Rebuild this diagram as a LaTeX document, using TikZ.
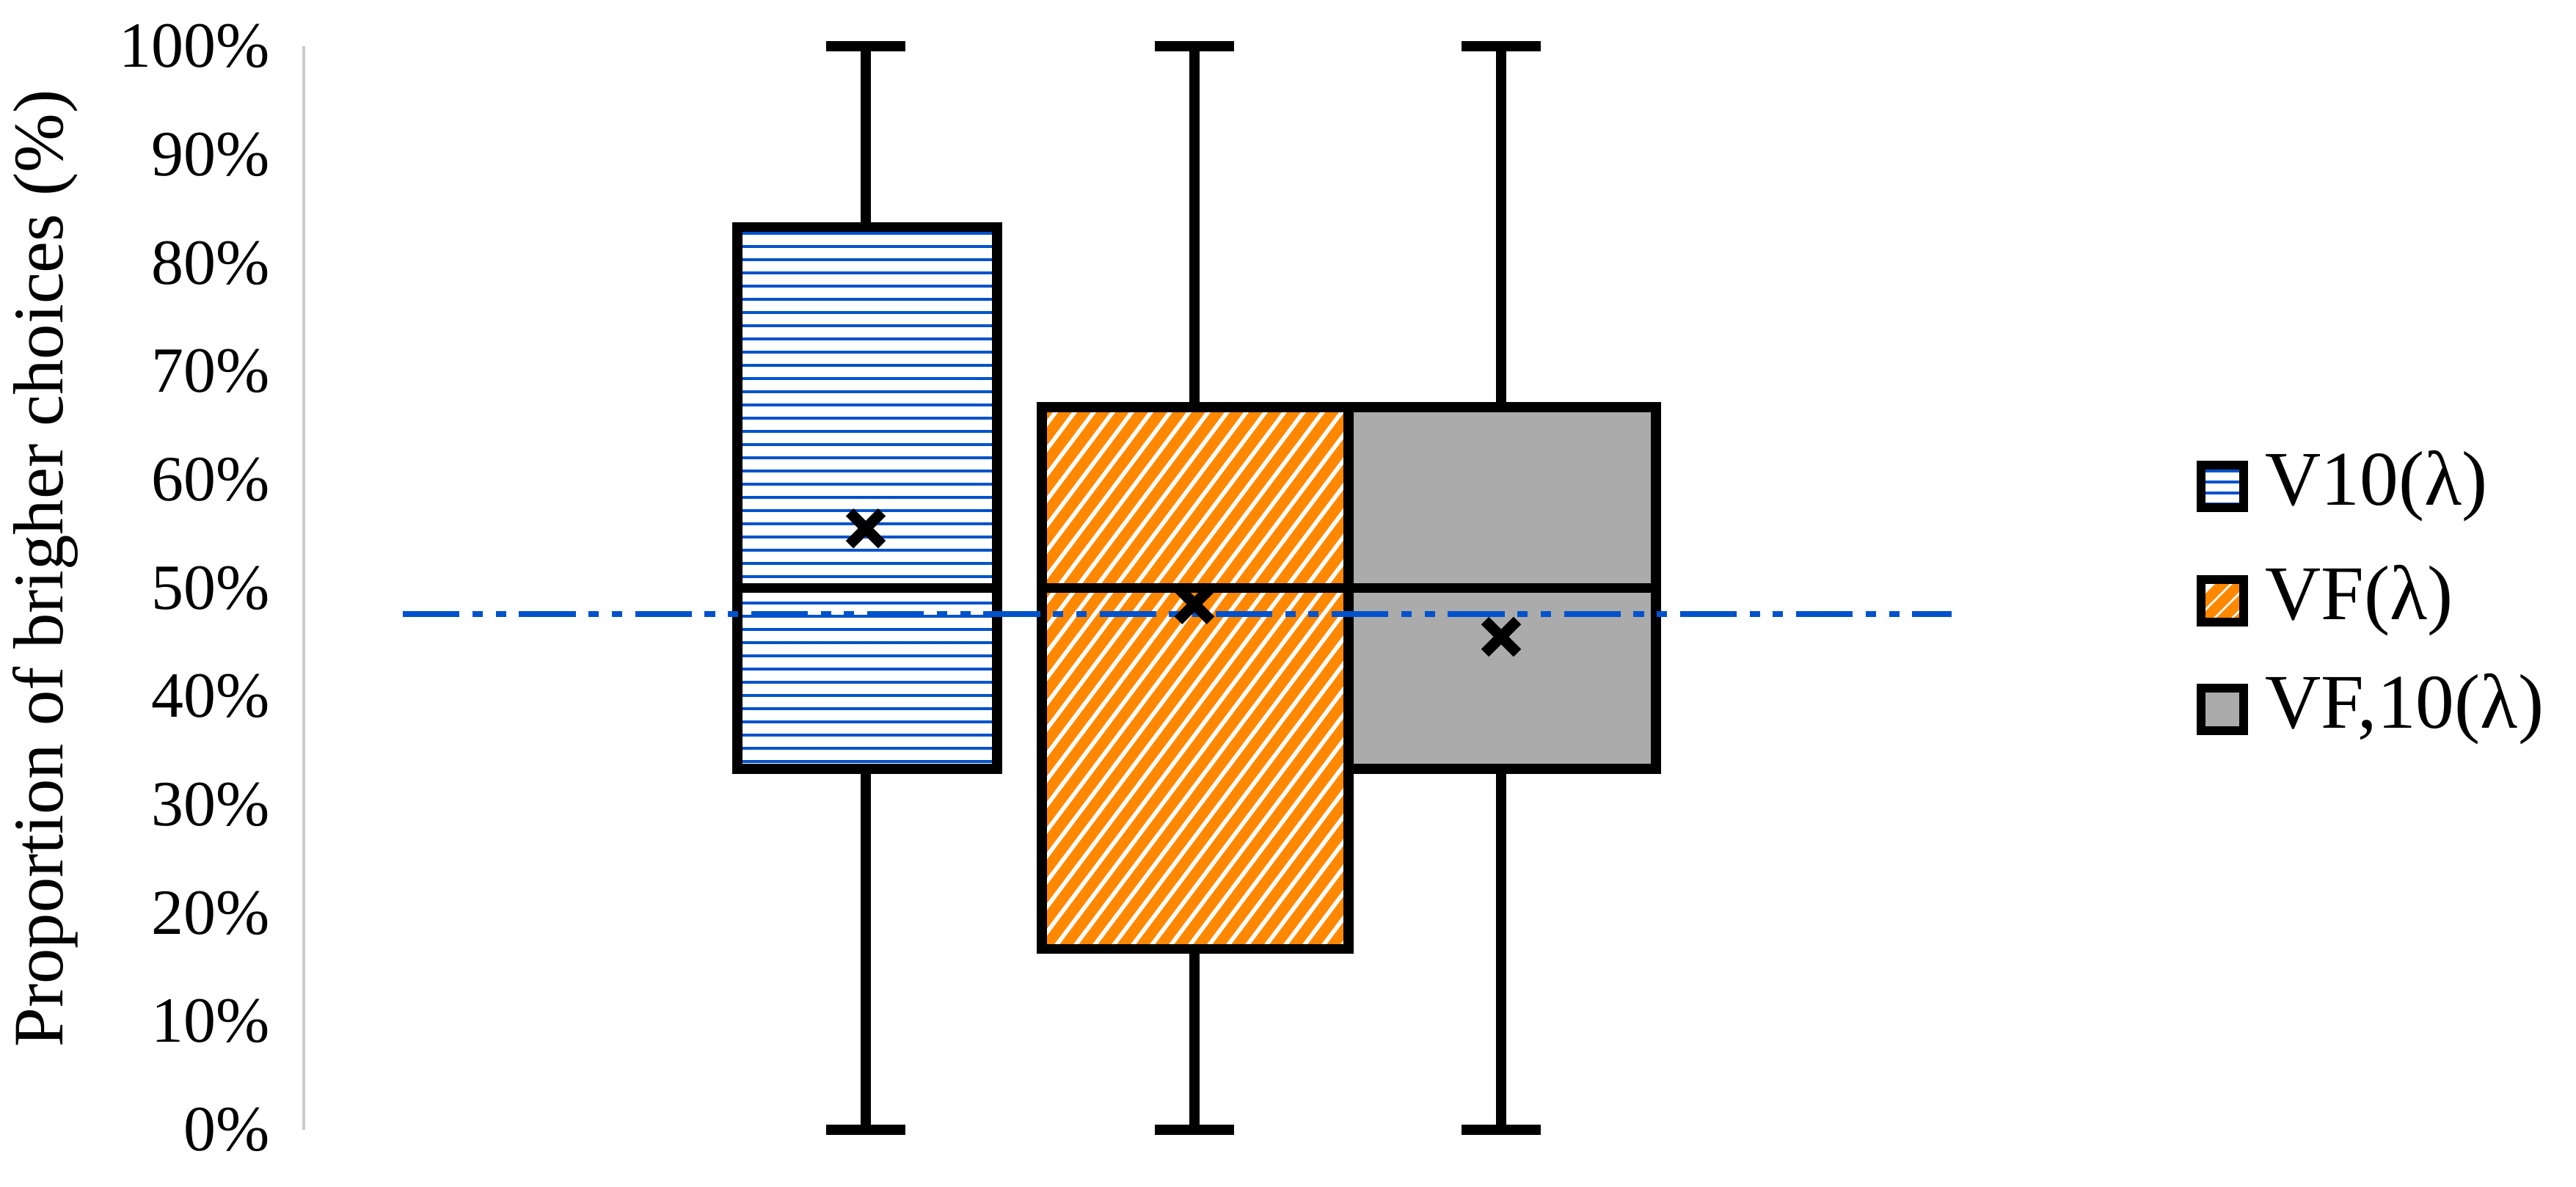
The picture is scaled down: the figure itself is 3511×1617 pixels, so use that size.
\documentclass[tikz,border=0pt]{standalone}
\usepackage{fontspec}
\setmainfont{Liberation Serif}
\begin{document}
\begin{tikzpicture}[x=0.01cm,y=-0.01cm,
  bx/.style={line width=3.8pt},
  wh/.style={line width=3.8pt},
  lbl/.style={font=\fontsize{25}{30}\selectfont},
  leg/.style={font=\fontsize{30}{36}\selectfont}]
\useasboundingbox (0,0) rectangle (3511,1617);
% axis
\draw[line width=1.2pt,black!20] (414,63) -- (414,1540);
\foreach \v in {0,10,...,100}
  \node[lbl,anchor=east] (t\v) at (380,{1540-14.77*\v}) {\v\%};
\node[font=\fontsize{27.5}{32}\selectfont,rotate=90] (yt) at (62,775) {Proportion of brigher choices (\%)};
% box 1
\begin{scope}
\clip (1005,{1540-14.77*83.3}) rectangle (1359,{1540-14.77*33.3});
\foreach \yy in {300,318,...,1060} \draw[line width=1.4pt,blue!60!cyan!80!black] (1005,\yy) -- (1359,\yy);
\end{scope}
\draw[wh] (1180,63) -- (1180,{1540-14.77*83.3}) (1126,63) -- (1234,63);
\draw[wh] (1180,1540) -- (1180,{1540-14.77*33.3}) (1126,1540) -- (1234,1540);
\draw[bx] (1005,{1540-14.77*83.3}) rectangle (1359,{1540-14.77*33.3});
\draw[bx] (1005,{1540-14.77*50}) -- (1359,{1540-14.77*50});
% box 2
\begin{scope}
\clip (1420,{1540-14.77*66.7}) rectangle (1838,{1540-14.77*16.7});
\foreach \s in {0,26,...,1400} \draw[line width=4.2pt,orange!90!red!85!yellow] (1420+\s-600,1300) -- (1420+\s,500);
\end{scope}
\draw[wh] (1628,63) -- (1628,{1540-14.77*66.7}) (1574,63) -- (1682,63);
\draw[wh] (1628,1540) -- (1628,{1540-14.77*16.7}) (1574,1540) -- (1682,1540);
\draw[bx] (1420,{1540-14.77*66.7}) rectangle (1838,{1540-14.77*16.7});
\draw[bx] (1420,{1540-14.77*50}) -- (1838,{1540-14.77*50});
% box 3
\draw[wh] (2046,63) -- (2046,{1540-14.77*66.7}) (1992,63) -- (2100,63);
\draw[wh] (2046,1540) -- (2046,{1540-14.77*33.3}) (1992,1540) -- (2100,1540);
\draw[bx,fill=black!33] (1838,{1540-14.77*66.7}) rectangle (2257,{1540-14.77*33.3});
\draw[bx] (1838,{1540-14.77*50}) -- (2257,{1540-14.77*50});
% reference line
\draw[line width=2.2pt,blue!60!cyan!80!black,dash pattern=on 22pt off 5pt on 4pt off 5pt on 4pt off 5pt] (549,{1540-14.77*47.6}) -- (2660,{1540-14.77*47.6});
% means
\foreach \cx/\m in {1180/55.5,1628/48.5,2046/45.5}
  \draw[line width=4.2pt] (\cx-22,{1540-14.77*\m-22}) -- (\cx+22,{1540-14.77*\m+22}) (\cx-22,{1540-14.77*\m+22}) -- (\cx+22,{1540-14.77*\m-22});
% legend
\begin{scope}
\clip (3000,634) rectangle (3058,692);
\foreach \yy in {642,657,672,687} \draw[line width=1.4pt,blue!60!cyan!80!black] (3000,\yy)--(3058,\yy);
\end{scope}
\draw[line width=3.2pt] (3000,634) rectangle (3058,692);
\begin{scope}
\clip (3000,790) rectangle (3058,848);
\foreach \s in {0,24,...,140} \draw[line width=4pt,orange!90!red!85!yellow] (2970+\s,855) -- (3040+\s,785);
\end{scope}
\draw[line width=3.2pt] (3000,790) rectangle (3058,848);
\draw[line width=3.2pt,fill=black!33] (3000,938) rectangle (3058,996);
\node[leg,anchor=west] (l1) at (3075,663) {V10(λ)};
\node[leg,anchor=west] (l2) at (3075,819) {VF(λ)};
\node[leg,anchor=west] (l3) at (3075,967) {VF,10(λ)};
\end{tikzpicture}
\end{document}
